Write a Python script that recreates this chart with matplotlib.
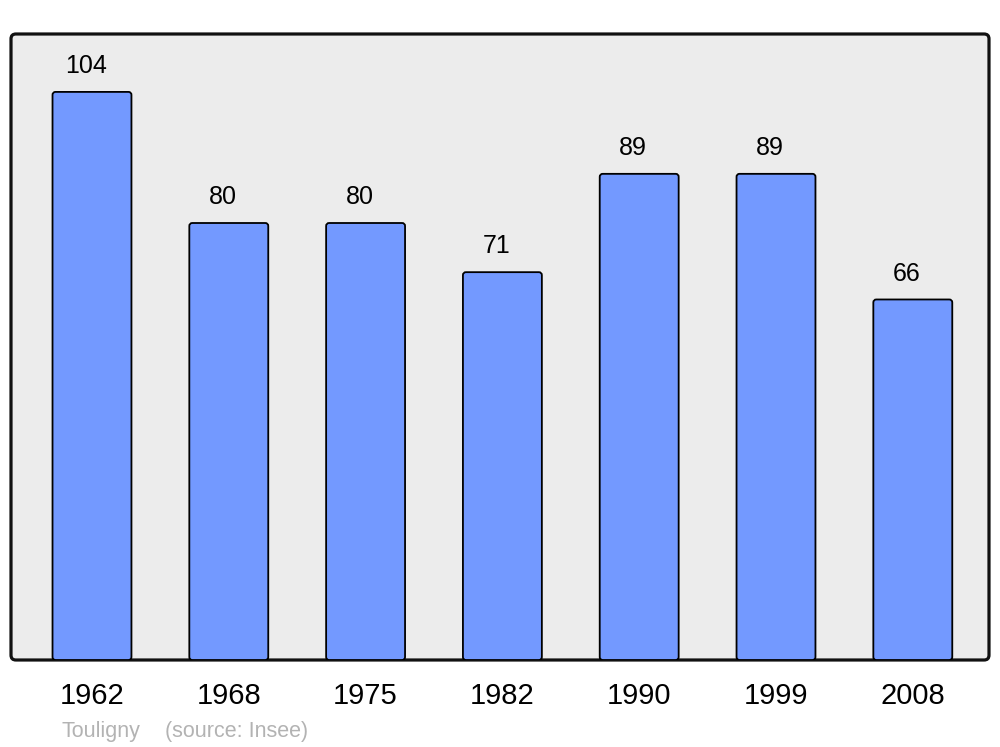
import matplotlib
matplotlib.use("Agg")
import matplotlib.pyplot as plt
from matplotlib.patches import FancyBboxPatch

years = ["1962", "1968", "1975", "1982", "1990", "1999", "2008"]
population = [104, 80, 80, 71, 89, 89, 66]
commune = "Touligny"
source = "(source: Insee)"

plt.rcParams['font.family'] = ['Liberation Sans', 'DejaVu Sans']

W, H = 1000, 747
fig = plt.figure(figsize=(W / 100, H / 100), dpi=100)
ax_l, ax_b, ax_w, ax_h = 11 / W, (H - 660) / H, 978 / W, 626 / H
ax = fig.add_axes([ax_l, ax_b, ax_w, ax_h])

xlim = (-0.592, 6.557)
ylim = (0, 114.6)
ax.set_xlim(*xlim)
ax.set_ylim(*ylim)
ax.patch.set_visible(False)
for s in ax.spines.values():
    s.set_visible(False)

# frame with rounded corners
frame = FancyBboxPatch((0, 0), 1, 1, boxstyle="round,pad=0,rounding_size=0.005",
                       mutation_aspect=(ax_w * W) / (ax_h * H),
                       transform=ax.transAxes, facecolor="#ececec",
                       edgecolor="#111111", linewidth=2.3, zorder=0, clip_on=False)
ax.add_patch(frame)

x = list(range(len(years)))
bars = ax.bar(x, population, width=0.577, color="#7399ff", edgecolor="black", linewidth=1.3)

px_x = ax_w * W / (xlim[1] - xlim[0])
px_y = ax_h * H / (ylim[1] - ylim[0])
r = 3.0 / px_x
for rect in bars.patches:
    bx, by = rect.get_x(), rect.get_y()
    bw, bh = rect.get_width(), rect.get_height()
    rect.set_visible(False)
    p = FancyBboxPatch((bx, by), bw, bh, boxstyle=f"round,pad=0,rounding_size={r}",
                       mutation_aspect=px_x / px_y,
                       facecolor="#7399ff", edgecolor="black", linewidth=1.3, zorder=2)
    ax.add_patch(p)

for xi, v in zip(x, population):
    ax.annotate(str(v), (xi, v), xytext=(-4.3, 13.5), textcoords="offset points",
                ha="center", va="baseline", fontsize=18, color="black")

ax.set_xticks(x)
ax.set_xticklabels(years, fontsize=21)
ax.tick_params(axis="x", length=0, pad=16)
ax.set_yticks([])
for lbl in ax.get_xticklabels():
    lbl.set_x(lbl.get_position()[0])

fig.text(62 / W, (H - 737) / H, commune, fontsize=15.5, color="#b3b3b3", va="baseline", ha="left")
fig.text(165 / W, (H - 737) / H, source, fontsize=15.5, color="#b3b3b3", va="baseline", ha="left")

fig.savefig("out.png", dpi=100, facecolor="white")
